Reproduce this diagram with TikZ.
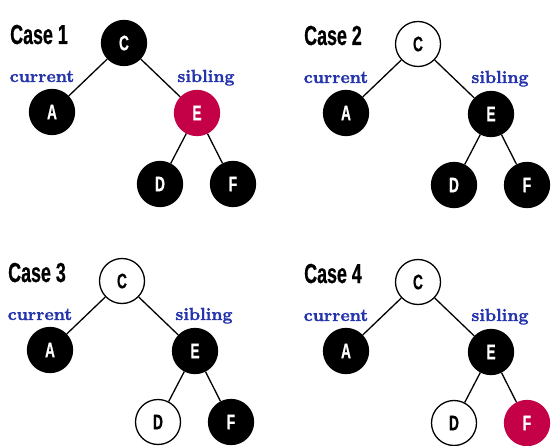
\documentclass[tikz,border=0pt]{standalone}
\usepackage{fontspec}
\newfontfamily\condfont[FakeStretch=0.65,FakeBold=0.5]{Liberation Sans Bold}
\newfontfamily\lblfont{lmroman10-bold}[Extension=.otf, FakeBold=1.5]
\definecolor{lblblue}{RGB}{36,52,172}
\definecolor{nodered}{RGB}{196,0,70}
\tikzset{
  tn/.style={circle, minimum size=45pt, inner sep=0pt, line width=1.3pt, font=\condfont\fontsize{21}{21}\selectfont},
  bn/.style={tn, draw=black, fill=black, text=white},
  wn/.style={tn, draw=black, fill=white, text=black},
  rn/.style={tn, draw=nodered, fill=nodered, text=white},
  edge/.style={line width=1.3pt, black},
  casetxt/.style={anchor=base west, inner sep=0pt, font=\condfont\fontsize{27.5}{27.5}\selectfont},
  lbl/.style={anchor=base, inner sep=0pt, text=lblblue, font=\lblfont\fontsize{17.5}{17.5}\selectfont}
}
\newcommand\casetree[8]{%
  \begin{scope}[shift={(#2,#3)}]
    \node[#4] (c#1C) at (0,0) {C};
    \node[#5] (c#1A) at (-72,69) {A};
    \node[#6] (c#1E) at (73,70) {E};
    \node[#7] (c#1D) at (36,141) {D};
    \node[#8] (c#1F) at (109,141) {F};
    \draw[edge] (c#1C) -- (c#1A);
    \draw[edge] (c#1C) -- (c#1E);
    \draw[edge] (c#1E) -- (c#1D);
    \draw[edge] (c#1E) -- (c#1F);
    \node[casetxt] (c#1T) at (-114,1) {Case #1};
    \node[lbl] (c#1cur) at (-82,39) {current};
    \node[lbl] (c#1sib) at (82,39) {sibling};
  \end{scope}}
\begin{document}
\begin{tikzpicture}[x=1pt,y=-1pt]
\useasboundingbox (0,0) rectangle (551,446);
\casetree{1}{124}{43}{bn}{bn}{rn}{bn}{bn}
\casetree{2}{418}{44}{wn}{bn}{bn}{bn}{bn}
\casetree{3}{122}{281}{wn}{bn}{bn}{wn}{bn}
\casetree{4}{418}{282}{wn}{bn}{bn}{wn}{rn}
\end{tikzpicture}
\end{document}
